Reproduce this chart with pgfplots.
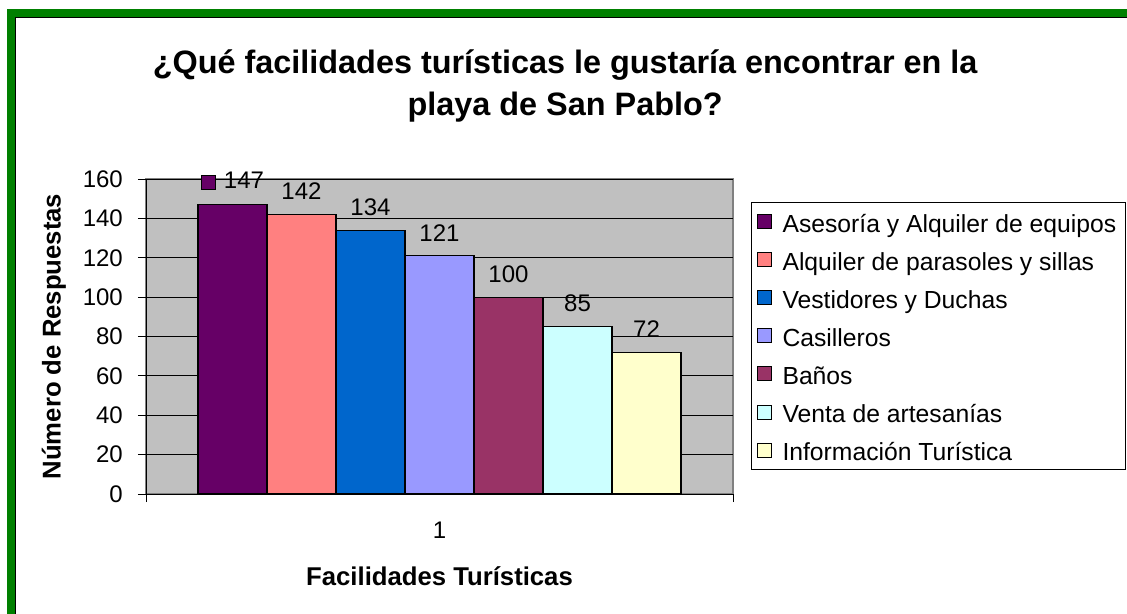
\documentclass[border=0pt]{standalone}
\usepackage{pgfplots}
\pgfplotsset{compat=1.18}
\usepackage{fontspec}
\setmainfont{Liberation Sans}
\definecolor{c1}{RGB}{102,0,102}
\definecolor{c2}{RGB}{255,128,128}
\definecolor{c3}{RGB}{0,102,204}
\definecolor{c4}{RGB}{153,153,255}
\definecolor{c5}{RGB}{153,51,102}
\definecolor{c6}{RGB}{204,255,255}
\definecolor{c7}{RGB}{255,255,204}
\definecolor{bggray}{RGB}{192,192,192}
\definecolor{frmgray}{RGB}{128,128,128}
\definecolor{frame}{RGB}{0,128,0}
\newcommand{\keybox}[1]{{\setlength{\fboxsep}{0pt}\setlength{\fboxrule}{1bp}\fcolorbox{black}{#1}{\rule{0pt}{13bp}\hspace{13bp}}}}
\begin{document}
\begin{tikzpicture}
\useasboundingbox (0,0) rectangle (1127bp,-614bp);
\fill[white] (0,0) rectangle (1127bp,-614bp);
\fill[frame] (7bp,-9bp) rectangle (1127bp,-614bp);
\fill[white] (15bp,-17bp) rectangle (1127bp,-614bp);
\draw[black, line width=1bp] (15.5bp,-614bp) -- (15.5bp,-17.5bp) -- (1127bp,-17.5bp);
\begin{axis}[
  at={(146bp,-494bp)}, anchor=south west,
  scale only axis, width=587bp, height=315bp,
  xmin=0, xmax=2, ymin=0, ymax=160,
  ybar=0pt, bar width=69bp,
  axis lines=left, axis line style={-, black, line width=1bp},
  axis background/.style={fill=bggray, draw=frmgray, line width=1.5bp},
  ytick={0,20,...,160},
  xtick={0,2}, xticklabels={,},
  extra x ticks={1}, extra x tick labels={1},
  extra x tick style={grid=none, major tick length=0pt},
  tick align=outside, major tick length=8bp,
  tick style={black, line width=1bp},
  ymajorgrids, grid style={black, line width=0.8bp},
  /pgf/number format/assume math mode=true,
  tick label style={font=\fontsize{24bp}{28bp}\selectfont},
  yticklabel style={anchor=east, inner sep=0pt, xshift=-15bp},
  xticklabel style={anchor=north, inner sep=0pt, yshift=-28bp},
  nodes near coords,
  every node near coord/.append style={font=\fontsize{24bp}{28bp}\selectfont, anchor=south, inner sep=0pt, yshift=14bp, black},
  title={¿Qué facilidades turísticas le gustaría encontrar en la\\playa de San Pablo?},
  title style={at={(0.714,1.392)}, anchor=north, align=center, inner sep=0pt, font=\bfseries\fontsize{32.4bp}{42bp}\selectfont},
  xlabel={Facilidades Turísticas},
  xlabel style={at={(0.5,-0.260)}, anchor=center, inner sep=0pt, font=\bfseries\fontsize{25.7bp}{30bp}\selectfont},
  ylabel={Número de Respuestas},
  ylabel style={at={(-0.157,0.5)}, anchor=center, rotate=0, inner sep=0pt, font=\bfseries\fontsize{25.7bp}{30bp}\selectfont},
  legend cell align=left,
  legend image code/.code={\draw[#1, draw=black, line width=1bp] (0bp,-7bp) rectangle (14bp,7bp);},
  legend style={at={(1.0307,0.927)}, anchor=north west, draw=black, line width=1bp, fill=white,
    font=\fontsize{24.7bp}{28bp}\selectfont, inner xsep=5bp, inner ysep=0bp, row sep=0pt, column sep=7bp,
    nodes={text height=22bp, text depth=1bp, inner ysep=7.55bp, inner xsep=4bp}},
]
\addplot[fill=c1, draw=black, line width=1.2bp, nodes near coords={\keybox{c1}\hspace{8bp}\pgfmathprintnumber{\pgfplotspointmeta}\hspace{5bp}}] coordinates {(1,147)};
\addplot[fill=c2, draw=black, line width=1.2bp] coordinates {(1,142)};
\addplot[fill=c3, draw=black, line width=1.2bp] coordinates {(1,134)};
\addplot[fill=c4, draw=black, line width=1.2bp] coordinates {(1,121)};
\addplot[fill=c5, draw=black, line width=1.2bp] coordinates {(1,100)};
\addplot[fill=c6, draw=black, line width=1.2bp] coordinates {(1,85)};
\addplot[fill=c7, draw=black, line width=1.2bp] coordinates {(1,72)};
\legend{Asesoría y Alquiler de equipos, Alquiler de parasoles y sillas, Vestidores y Duchas, Casilleros, Baños, Venta de artesanías, Información Turística}
\end{axis}
\end{tikzpicture}
\end{document}
